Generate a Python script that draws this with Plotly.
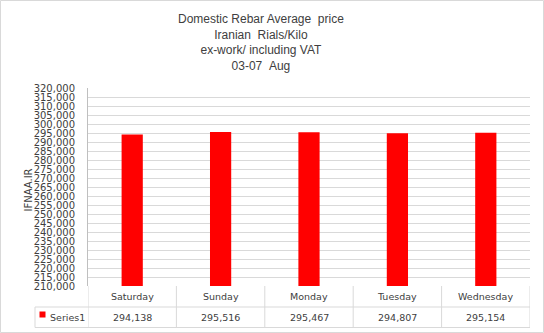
import plotly.graph_objects as go

# Daily average price of domestic rebar (Iranian Rials per kilo)
days = ["Saturday", "Sunday", "Monday", "Tuesday", "Wednesday"]
prices = [294138, 295516, 295467, 294807, 295154]
series_name = "Series1"
title_lines = [
    "Domestic Rebar Average\u00a0\u00a0price",
    "Iranian\u00a0\u00a0Rials/Kilo",
    "ex-work/ including VAT",
    "03-07\u00a0\u00a0Aug",
]
y_title = "IFNAA.IR"

W, H = 544, 333
ML, MR, MT, MB = 88, 14, 88, 47
PW, PH = W - ML - MR, H - MT - MB

GRID = "#d9d9d9"
TXT = "#404040"
TICK_FONT = dict(family="DejaVu Sans", size=10, color=TXT)
TABLE_FONT = dict(family="DejaVu Sans", size=9.5, color=TXT)


def px(x):
    return (x - ML) / PW


def py(y):
    return (H - MB - y) / PH


fig = go.Figure(
    go.Bar(
        x=days,
        y=prices,
        name=series_name,
        marker=dict(color="#ff0000", line=dict(width=0)),
        width=0.24,
    )
)

# Data table under the plot: one row of day names, one row of values
row1_top, row1_bot, row2_bot = 286.5, 307, 327.5
shapes = []
line = dict(color=GRID, width=1)
shapes.append(dict(type="line", xref="paper", yref="paper",
                   x0=px(35), x1=px(530), y0=py(row1_bot), y1=py(row1_bot), line=line))
shapes.append(dict(type="line", xref="paper", yref="paper",
                   x0=px(35), x1=px(530), y0=py(row2_bot), y1=py(row2_bot), line=line))
shapes.append(dict(type="line", xref="paper", yref="paper",
                   x0=px(35), x1=px(35), y0=py(row1_bot), y1=py(row2_bot), line=line))
for i in range(len(days) + 1):
    shapes.append(dict(type="line", xref="x", yref="paper",
                       x0=i - 0.5, x1=i - 0.5, y0=0, y1=py(row2_bot), line=line))

# legend key inside the table
shapes.append(dict(type="rect", xref="paper", yref="paper",
                   x0=px(39.5), x1=px(45.5), y0=py(317.5), y1=py(311.5),
                   fillcolor="#ff0000", line=dict(width=0)))

# outer chart border
shapes.append(dict(type="rect", xref="paper", yref="paper",
                   x0=px(0.5), x1=px(543.5), y0=py(332.5), y1=py(0.5),
                   line=dict(color=GRID, width=1), fillcolor="rgba(0,0,0,0)", layer="below"))

annotations = []
for d, v in zip(days, prices):
    annotations.append(dict(x=d, xref="x", yref="paper", y=py((row1_top + row1_bot) / 2),
                            text=d, showarrow=False, font=TABLE_FONT,
                            xanchor="center", yanchor="middle"))
    annotations.append(dict(x=d, xref="x", yref="paper", y=py((row1_bot + row2_bot) / 2),
                            text=f"{v:,}", showarrow=False, font=TABLE_FONT,
                            xanchor="center", yanchor="middle"))
annotations.append(dict(x=px(48), y=py((row1_bot + row2_bot) / 2), xref="paper", yref="paper",
                        text=series_name, showarrow=False, font=TABLE_FONT,
                        xanchor="left", yanchor="middle"))
annotations.append(dict(x=px(27.5), y=py(190), xref="paper", yref="paper",
                        text=y_title, textangle=-90, showarrow=False,
                        font=dict(family="DejaVu Sans", size=10, color=TXT),
                        xanchor="center", yanchor="middle"))
# chart title, four centred lines
annotations.append(dict(x=px(261), y=py(10), xref="paper", yref="paper",
                        text="<br>".join(title_lines), showarrow=False, align="center",
                        font=dict(family="Liberation Sans", size=12, color=TXT),
                        xanchor="center", yanchor="top"))

fig.update_layout(
    width=W,
    height=H,
    margin=dict(l=ML, r=MR, t=MT, b=MB, pad=0),
    paper_bgcolor="white",
    plot_bgcolor="white",
    showlegend=False,
    xaxis=dict(
        showticklabels=False, ticks="", showgrid=False, zeroline=False,
        showline=False, range=[-0.5, len(days) - 0.5],
    ),
    yaxis=dict(
        range=[210000, 320000], dtick=5000, tick0=210000, tickformat=",",
        showgrid=True, gridcolor=GRID, gridwidth=1, zeroline=False,
        showline=True, linecolor="#bfbfbf", linewidth=1,
        ticks="", ticklabelstandoff=10, tickfont=TICK_FONT,
    ),
    shapes=shapes,
    annotations=annotations,
    bargap=0.76,
)

fig.write_html("out.html")
